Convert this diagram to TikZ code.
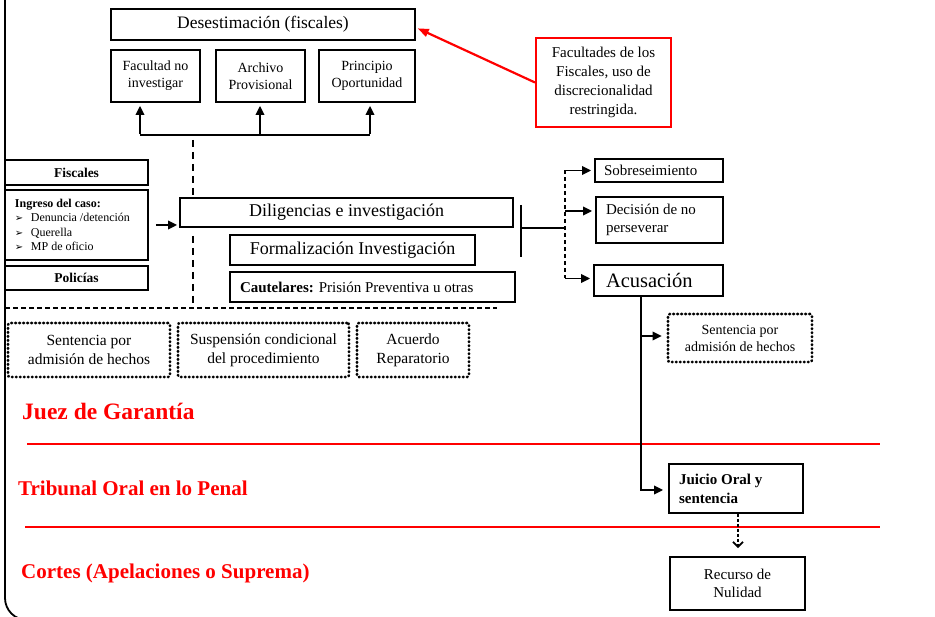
\documentclass[tikz,border=0pt]{standalone}
\usepackage{fontspec}
\setmainfont{Liberation Serif}
\newfontfamily\dingfont{DejaVu Sans}
\usetikzlibrary{arrows.meta}

\newcommand{\fsz}[2]{\fontsize{#1}{#2}\selectfont}
\newcommand{\itemarrow}{\makebox[16pt][l]{\dingfont\fontsize{10}{10}\selectfont ➢}}

\begin{document}
\begin{tikzpicture}[x=1pt,y=-1pt,
  box/.style={draw,line width=1.8pt,fill=white,inner sep=2pt,align=center},
  leftbox/.style={box,align=flush left,inner xsep=10pt},
  dotbox/.style={draw,line width=2.6pt,dash pattern=on 0.8pt off 3.2pt,line cap=round,
    rounded corners=2pt,align=center,inner sep=2pt,font=\fsz{15.5}{19}},
  arr/.style={line width=1.8pt,-{Triangle[length=9pt,width=8.5pt]}},
  heading/.style={text=red,font=\bfseries\fsz{21}{24},anchor=base west,inner sep=0pt},
  redline/.style={red,line width=2pt}]
  \clip (0,0) rectangle (935,617);
  % outer frame
  \draw[line width=1.8pt,rounded corners=22pt] (5,-30) rectangle (952,620);

  % desestimacion
  \node[box,minimum width=304pt,minimum height=31pt,font=\fsz{17.5}{20}] (desest) at (263,24.5) {Desestimación (fiscales)};
  \node[box,minimum width=89pt,minimum height=52pt,font=\fsz{14}{17}] (facu) at (155.5,76) {Facultad no\\investigar};
  \node[box,minimum width=89pt,minimum height=52pt,font=\fsz{14}{17}] (archivo) at (260.5,76) {Archivo\\Provisional};
  \node[box,minimum width=96pt,minimum height=52pt,font=\fsz{14}{17}] (princ) at (367,76) {Principio\\Oportunidad};
  \node[box,draw=red,line width=2pt,minimum width=135pt,minimum height=89pt,font=\fsz{15}{19}] (callout) at (603.5,82.5)
    {Facultades de los\\Fiscales, uso de\\discrecionalidad\\restringida.};

  % ingreso
  \node[box,minimum width=143pt,minimum height=25pt,font=\bfseries\fsz{13.5}{16}] (fisc) at (76.5,172.5) {Fiscales};
  \node[leftbox,text width=123pt,minimum height=70pt,font=\fsz{12}{14.5}] (ingreso) at (76.5,225)
    {\textbf{Ingreso del caso:}\\
     \itemarrow Denuncia /detención\\
     \itemarrow Querella\\
     \itemarrow MP de oficio};
  \node[box,minimum width=143pt,minimum height=24pt,font=\bfseries\fsz{13.5}{16}] (polic) at (76.5,278) {Policías};

  % investigacion
  \coordinate (dtop) at (193,140);
  \coordinate (dbot) at (193,307);
  \node[box,minimum width=333pt,minimum height=29pt,font=\fsz{18}{21}] (dilig) at (346.5,212.5) {Diligencias e investigación};
  \node[box,minimum width=245pt,minimum height=30pt,font=\fsz{18}{21}] (formal) at (352.5,250) {Formalización Investigación};
  \node[leftbox,text width=265pt,minimum height=30pt,font=\fsz{15}{18}] (caut) at (372.5,287) {\textbf{Cautelares:} Prisión Preventiva u otras};

  % salidas
  \node[leftbox,inner xsep=9pt,text width=110pt,minimum height=23pt,font=\fsz{15}{18}] (sobre) at (659,170.5) {Sobreseimiento};
  \node[leftbox,text width=107pt,minimum height=46pt,font=\fsz{15}{18}] (decis) at (659.5,220) {Decisión de no\\perseverar};
  \node[leftbox,inner xsep=12pt,text width=105pt,minimum height=31pt,font=\fsz{20.5}{23}] (acus) at (658.5,280.5) {Acusación};

  % salidas alternativas
  \node[dotbox,minimum width=162pt,minimum height=54pt] (sent1) at (89,350) {Sentencia por\\admisión de hechos};
  \node[dotbox,minimum width=171pt,minimum height=54pt] (susp) at (263.5,350) {Suspensión condicional\\del procedimiento};
  \node[dotbox,minimum width=112pt,minimum height=54pt] (acuerdo) at (413,350) {Acuerdo\\Reparatorio};
  \node[dotbox,minimum width=144pt,minimum height=48pt,font=\fsz{14}{17}] (sent2) at (740,338) {Sentencia por\\admisión de hechos};

  % juicio
  \node[leftbox,text width=114pt,minimum height=49pt,font=\bfseries\fsz{15}{19}] (juicio) at (736,488.5) {Juicio Oral y\\sentencia};
  \node[box,minimum width=135pt,minimum height=53pt,font=\fsz{15}{18}] (recurso) at (737.5,583.5) {Recurso de\\Nulidad};

  % tribunales
  \node[heading,font=\bfseries\fsz{23.5}{26}] (juez) at (22,420) {Juez de Garantía};
  \node[heading] (top) at (18,496) {Tribunal Oral en lo Penal};
  \node[heading] (cortes) at (21,578) {Cortes (Apelaciones o Suprema)};
  \draw[redline] (27,444) -- (880,444);
  \draw[redline] (25,527) -- (880,527);

  % conectores
  \coordinate (a1) at (140,135);
  \coordinate (a2) at (260,135);
  \coordinate (a3) at (370,135);
  \draw[line width=1.8pt] (a1) -- (a3);
  \foreach \c/\n in {a1/facu,a2/archivo,a3/princ}
    \draw[arr,shorten >=3pt] ([yshift=0.9pt]\c) -- (\c |- \n.south);
  \draw[line width=2pt,dash pattern=on 7pt off 5pt] (dtop) -- (dtop |- dilig.north);
  \draw[line width=2pt,dash pattern=on 7pt off 5pt] ([yshift=-8pt]dtop |- dilig.south) -- (dbot);
  \draw[line width=1.6pt,dash pattern=on 5pt off 3pt] (5,308) -- (497,308);
  \draw[red,line width=2.2pt,-{Triangle[length=11pt,width=8pt]},shorten >=2pt] (callout.west) -- ([yshift=-3pt]desest.east);
  \draw[arr] ([xshift=7pt]ingreso.east) -- ([xshift=-2pt]ingreso.east -| dilig.west);

  \coordinate (barT) at (521,205);
  \coordinate (barB) at (521,257);
  \coordinate (fork) at (565,228);
  \draw[line width=1.8pt] (barT) -- (barB);
  \draw[line width=1.8pt] (barT |- fork) -- (fork);
  \draw[line width=1.5pt,dash pattern=on 4pt off 3pt] (fork |- sobre.west) -- ([yshift=2pt]fork |- acus.west);
  \draw[arr,shorten >=3pt] (fork |- sobre.west) -- (sobre.west);
  \draw[arr,shorten >=3pt] (fork |- 0,211) -- (decis.west |- 0,211);
  \draw[arr,shorten >=3pt] ([yshift=2pt]fork |- acus.west) -- ([yshift=2pt]acus.west);

  \coordinate (acdown) at ([xshift=-17.5pt]acus.south);
  \draw[arr,shorten >=5pt] (acdown) |- ([yshift=-1.5pt]juicio.west);
  \draw[arr,shorten >=5pt] (acdown |- 0,336) -- (sent2.west |- 0,336);
  \draw[line width=1.8pt,dash pattern=on 3pt off 2pt,-{Straight Barb[length=5pt,width=10pt]},shorten >=8pt]
    ([xshift=2pt]juicio.south) -- ([xshift=0.5pt]recurso.north);
\end{tikzpicture}
\end{document}
